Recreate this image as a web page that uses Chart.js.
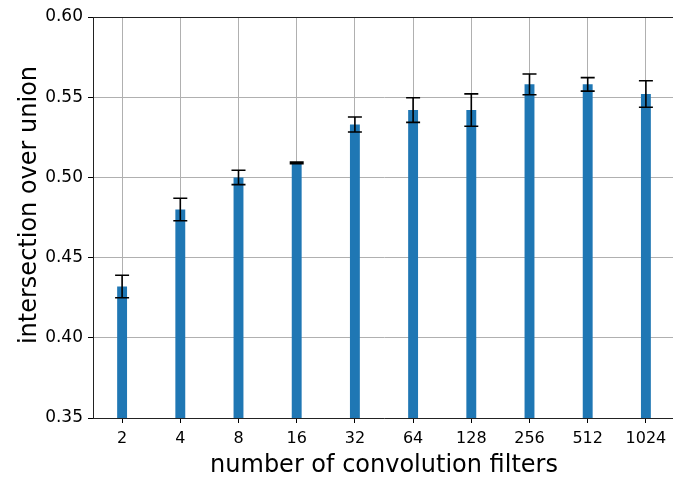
<!DOCTYPE html>
<html>
<head>
<meta charset="utf-8">
<script src="https://cdn.jsdelivr.net/npm/chart.js@4.4.1/dist/chart.umd.min.js"></script>
<style>
  html, body { margin: 0; padding: 0; background: #fff; overflow: hidden; }
  #wrap { position: relative; width: 676px; height: 477px; }
</style>
</head>
<body>
<div id="wrap"><canvas id="iouChart"></canvas></div>
<script>
// number of filters vs mean IoU, with std error bars
const filters = ['2', '4', '8', '16', '32', '64', '128', '256', '512', '1024'];
const iouMean = [0.432, 0.480, 0.500, 0.509, 0.533, 0.542, 0.542, 0.558, 0.558, 0.552];
const iouStd = [0.007, 0.007, 0.0045, 0.0005, 0.0047, 0.0077, 0.0101, 0.0065, 0.0042, 0.0083];
const yTicks = [0.35, 0.40, 0.45, 0.50, 0.55, 0.60];
const yTitle = 'intersection over union';

const FONT = "'DejaVu Sans', sans-serif";

// error bars, top spine and the y label, drawn last so they sit over bars and grid
const errorBars = {
  id: 'errorBars',
  afterDraw(chart) {
    const ctx = chart.ctx;
    const y = chart.scales.y;
    const meta = chart.getDatasetMeta(0);
    const area = chart.chartArea;

    ctx.save();
    ctx.strokeStyle = '#222';
    ctx.lineWidth = 1;
    ctx.beginPath();
    ctx.moveTo(area.left, Math.round(area.top) + 0.5);
    ctx.lineTo(area.right, Math.round(area.top) + 0.5);
    ctx.stroke();

    ctx.strokeStyle = '#000';
    ctx.lineWidth = 1.6;
    meta.data.forEach((bar, i) => {
      const top = y.getPixelForValue(iouMean[i] + iouStd[i]);
      const bot = y.getPixelForValue(iouMean[i] - iouStd[i]);
      const x = bar.x;
      ctx.beginPath();
      ctx.moveTo(x, top);
      ctx.lineTo(x, bot);
      ctx.moveTo(x - 7, top);
      ctx.lineTo(x + 7, top);
      ctx.moveTo(x - 7, bot);
      ctx.lineTo(x + 7, bot);
      ctx.stroke();
    });

    // y axis label sits a bit above the axis middle
    ctx.translate(30, 205);
    ctx.rotate(-Math.PI / 2);
    ctx.fillStyle = '#000';
    ctx.font = "24px " + FONT;
    ctx.textAlign = 'center';
    ctx.textBaseline = 'middle';
    ctx.fillText(yTitle, 0, 0);
    ctx.restore();
  }
};

new Chart(document.getElementById('iouChart'), {
  type: 'bar',
  data: {
    labels: filters,
    datasets: [{
      data: iouMean,
      backgroundColor: '#1f77b4',
      borderWidth: 0,
      barPercentage: 0.17,
      categoryPercentage: 1.0
    }]
  },
  options: {
    responsive: true,
    maintainAspectRatio: false,
    animation: false,
    layout: { padding: { top: 17, right: 1, left: 0, bottom: 0 } },
    plugins: {
      legend: { display: false },
      tooltip: { enabled: false }
    },
    scales: {
      x: {
        z: 1,
        offset: true,
        grid: {
          offset: false,
          color: '#b0b0b0',
          lineWidth: 1,
          tickColor: '#000',
          tickLength: 5
        },
        border: { color: '#222', width: 1 },
        ticks: {
          color: '#000',
          padding: 6,
          font: { family: FONT, size: 16 }
        },
        title: {
          display: true,
          text: 'number of convolution filters',
          color: '#000',
          padding: { top: 0, bottom: -3 },
          font: { family: FONT, size: 24 }
        },
        afterFit(scale) { scale.height = 59; }
      },
      y: {
        z: 1,
        min: 0.35,
        max: 0.60,
        afterBuildTicks(scale) {
          scale.ticks = yTicks.map(v => ({ value: v }));
        },
        grid: {
          color: '#b0b0b0',
          lineWidth: 1,
          tickColor: '#000',
          tickLength: 5
        },
        border: { color: '#222', width: 1 },
        ticks: {
          color: '#000',
          padding: 5,
          font: { family: FONT, size: 17 },
          callback: v => v.toFixed(2)
        },
        afterFit(scale) { scale.width = 93; }
      }
    }
  },
  plugins: [errorBars]
});
</script>
</body>
</html>
